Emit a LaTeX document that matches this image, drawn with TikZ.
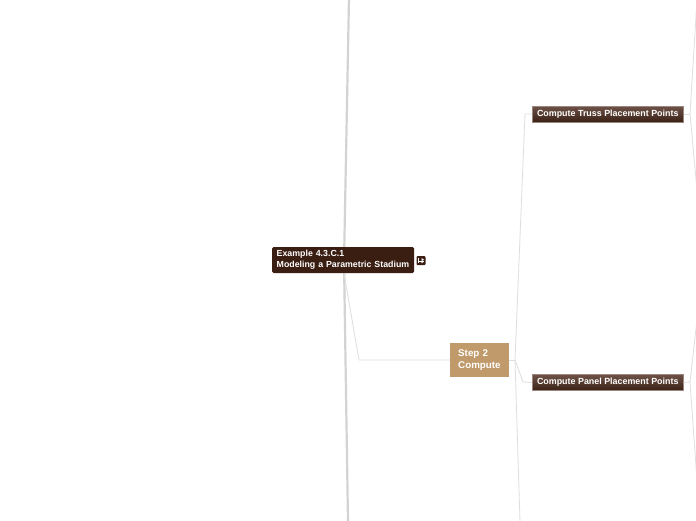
\documentclass[tikz,border=0pt]{standalone}
\usepackage{fontspec}
\setmainfont{Liberation Sans}
\usetikzlibrary{shapes.geometric}
\definecolor{rootbrown}{HTML}{3B1E12}
\definecolor{steptan}{HTML}{C09A6A}
\definecolor{cmptop}{HTML}{6E5247}
\definecolor{cmpbot}{HTML}{3A2116}
\definecolor{thickline}{HTML}{D3D3D3}
\definecolor{thinline}{HTML}{DEDEDE}
\tikzset{
  rootbox/.style={fill=rootbrown, text=white, font=\bfseries\fontsize{8.8}{11}\selectfont,
    rounded corners=1.5pt, text width=133pt, inner xsep=4.5pt, inner ysep=0pt,
    minimum height=26pt, align=left, anchor=west},
  stepbox/.style={fill=steptan, text=white, font=\bfseries\fontsize{9.8}{12}\selectfont,
    text width=43pt, inner xsep=8pt, inner ysep=0pt, minimum height=34pt, align=left, anchor=west},
  cmpbox/.style={top color=cmptop, bottom color=cmpbot, draw=cmptop!70!white, line width=0.5pt,
    text=white, font=\bfseries\fontsize{8.9}{10}\selectfont, minimum width=151pt,
    minimum height=16pt, inner sep=0pt, anchor=west},
  trunk/.style={draw=thickline, line width=2.2pt},
  twig/.style={draw=thinline, line width=0.8pt},
}
\begin{document}
\begin{tikzpicture}[x=1pt,y=-1pt]
\useasboundingbox (0,0) rectangle (696,520);
\clip (0,0) rectangle (696,520);
\fill[white] (0,0) rectangle (696,520);
% coordinates
\coordinate (ttop) at (349,-2);
\coordinate (tmid) at (344,262);
\coordinate (tbot) at (348,522);
\coordinate (rb) at (359,360);
\coordinate (sj) at (515,360);
\coordinate (tj) at (525,114);
\coordinate (pj) at (523,382);
\coordinate (sbot) at (520,522);
\coordinate (tr) at (690,114);
\coordinate (tru) at (697,0);
\coordinate (trd) at (697,190);
\coordinate (pr) at (690,382);
\coordinate (pru) at (697,320);
\coordinate (prd) at (697,480);
% trunk
\draw[trunk] (ttop) -- (tmid) -- (tbot);
% nodes
\node[rootbox] (root) at (272,260) {\mbox{Example 4.3.C.1}\\\mbox{Modeling a Parametric Stadium}};
\node[stepbox] (step) at (450,360) {Step 2\\Compute};
\node[cmpbox] (truss) at (532,114) {Compute Truss Placement Points};
\node[cmpbox] (panel) at (532,382.5) {Compute Panel Placement Points};
% icon
\node[fill=rootbrown, rounded corners=1pt, minimum size=9pt, inner sep=0pt] (icon) at (421,260.5) {};
\draw[white, line width=0.9pt] ([shift={(-2.8,2.2)}]icon.center) -- ([shift={(-2.8,-2.2)}]icon.center);
\draw[white, line width=0.9pt] ([shift={(-2.8,0.5)}]icon.center) -- ([shift={(2.6,0.5)}]icon.center);
\fill[white] ([shift={(0.6,-2.4)}]icon.center) -- ([shift={(3,-0.8)}]icon.center) -- ([shift={(0.6,0.6)}]icon.center) -- cycle;
\fill[white] ([shift={(0.2,0.5)}]icon.center) -- ([shift={(2.8,1.2)}]icon.center) -- ([shift={(0.6,2.8)}]icon.center) -- cycle;
% connectors
\draw[twig] (root.south -| tmid) -- (rb) -- (step.west);
\draw[twig] (step.east) -- (sj);
\draw[twig] (sj) -- (tj) -- (truss.west);
\draw[twig] (sj) -- (pj) -- (panel.west);
\draw[twig] (sj) -- (sbot);
\draw[twig] (truss.east) -- (tr);
\draw[twig] (tr) -- (tru);
\draw[twig] (tr) -- (trd);
\draw[twig] (panel.east) -- (pr);
\draw[twig] (pr) -- (pru);
\draw[twig] (pr) -- (prd);
\end{tikzpicture}
\end{document}
